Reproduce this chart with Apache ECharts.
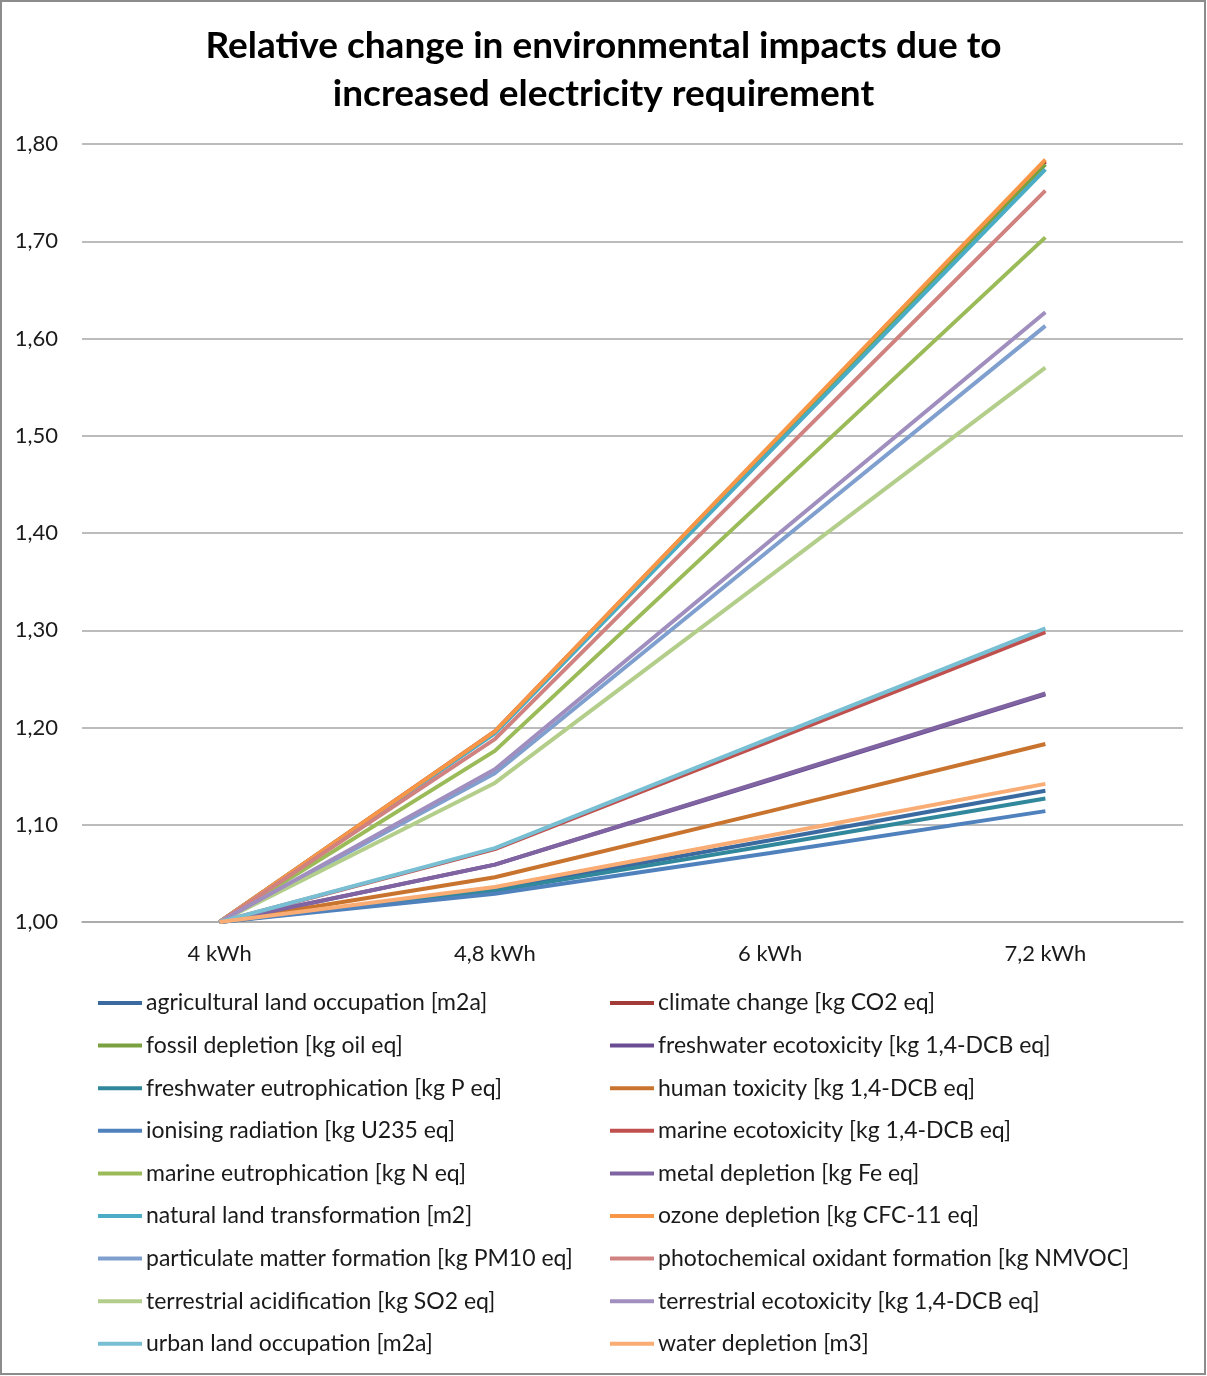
<!DOCTYPE html>
<html>
<head>
<meta charset="utf-8">
<script src="https://cdn.jsdelivr.net/npm/echarts@6/dist/echarts.min.js"></script>
<style>
html,body{margin:0;padding:0;background:#fff;}
#chart{width:1207px;height:1376px;}
</style>
</head>
<body>
<div id="chart"></div>
<script>
var categories = ['4 kWh', '4,8 kWh', '6 kWh', '7,2 kWh'];
var yTicks = [1.0, 1.8, 0.1];

var agricultural = [1.000, 1.034, 1.084, 1.135];
var climateChange = [1.000, 1.196, 1.489, 1.782];
var fossilDepletion = [1.000, 1.195, 1.487, 1.779];
var freshwaterEcotox = [1.000, 1.059, 1.146, 1.234];
var freshwaterEutro = [1.000, 1.032, 1.079, 1.127];
var humanTox = [1.000, 1.046, 1.114, 1.183];
var ionising = [1.000, 1.029, 1.071, 1.114];
var marineEcotox = [1.000, 1.075, 1.186, 1.298];
var marineEutro = [1.000, 1.176, 1.440, 1.704];
var metalDepletion = [1.000, 1.059, 1.147, 1.235];
var naturalLand = [1.000, 1.194, 1.484, 1.774];
var ozoneDepletion = [1.000, 1.196, 1.490, 1.784];
var particulate = [1.000, 1.153, 1.383, 1.613];
var photochemical = [1.000, 1.188, 1.470, 1.752];
var terrAcid = [1.000, 1.143, 1.356, 1.570];
var terrEcotox = [1.000, 1.157, 1.392, 1.627];
var urbanLand = [1.000, 1.076, 1.189, 1.302];
var waterDepletion = [1.000, 1.036, 1.089, 1.142];

var seriesNames = [
  'agricultural land occupation [m2a]',
  'climate change [kg CO2 eq]',
  'fossil depletion [kg oil eq]',
  'freshwater ecotoxicity [kg 1,4-DCB eq]',
  'freshwater eutrophication [kg P eq]',
  'human toxicity [kg 1,4-DCB eq]',
  'ionising radiation [kg U235 eq]',
  'marine ecotoxicity [kg 1,4-DCB eq]',
  'marine eutrophication [kg N eq]',
  'metal depletion [kg Fe eq]',
  'natural land transformation [m2]',
  'ozone depletion [kg CFC-11 eq]',
  'particulate matter formation [kg PM10 eq]',
  'photochemical oxidant formation [kg NMVOC]',
  'terrestrial acidification [kg SO2 eq]',
  'terrestrial ecotoxicity [kg 1,4-DCB eq]',
  'urban land occupation [m2a]',
  'water depletion [m3]'
];
var seriesData = [agricultural, climateChange, fossilDepletion, freshwaterEcotox, freshwaterEutro,
  humanTox, ionising, marineEcotox, marineEutro, metalDepletion, naturalLand, ozoneDepletion,
  particulate, photochemical, terrAcid, terrEcotox, urbanLand, waterDepletion];
var colors = ['#3B6AA0', '#A33B38', '#7AA03F', '#6A4C93', '#31879B', '#C8742F',
  '#4F81BD', '#C0504D', '#9BBB59', '#8064A2', '#4BACC6', '#F79646',
  '#7F9FCF', '#D08280', '#B3CE8A', '#A08EBF', '#78BFD3', '#F9AC73'];

var FONT = 'Lato';
var series = seriesNames.map(function (n, i) {
  return {
    name: n, type: 'line', data: seriesData[i], symbol: 'none', showSymbol: false,
    lineStyle: { width: 4, color: colors[i] }, itemStyle: { color: colors[i] },
    emphasis: { disabled: true }, animation: false
  };
});
var leftNames = seriesNames.filter(function (n, i) { return i % 2 === 0; });
var rightNames = seriesNames.filter(function (n, i) { return i % 2 === 1; });
var legendCommon = {
  orient: 'vertical', top: 986, itemWidth: 44, itemHeight: 4, itemGap: 18.6, icon: 'rect',
  textStyle: { fontFamily: FONT, fontSize: 23, lineHeight: 24, color: '#1a1a1a', padding: [0, 0, 0, -1] },
  selectedMode: false
};

var chart = echarts.init(document.getElementById('chart'), null, { renderer: 'canvas' });
chart.setOption({
  backgroundColor: '#fff',
  animation: false,
  title: {
    text: 'Relative change in environmental impacts due to\nincreased electricity requirement',
    left: 'center', top: 17,
    textStyle: { fontFamily: FONT, fontWeight: 'bold', fontSize: 37, lineHeight: 48, color: '#000' }
  },
  grid: { left: 82, right: 24, top: 144, height: 778 },
  legend: [
    Object.assign({ left: 93, data: leftNames }, legendCommon),
    Object.assign({ left: 605, data: rightNames }, legendCommon)
  ],
  xAxis: {
    type: 'category', data: categories, boundaryGap: true,
    axisLine: { lineStyle: { color: '#A6A6A6', width: 1.5 } },
    axisTick: { show: false },
    axisLabel: { fontFamily: FONT, fontSize: 22, color: '#1a1a1a', margin: 21 }
  },
  yAxis: {
    type: 'value', min: yTicks[0], max: yTicks[1], interval: yTicks[2],
    axisLine: { show: false }, axisTick: { show: false },
    splitLine: { lineStyle: { color: '#A6A6A6', width: 1.5 } },
    axisLabel: {
      fontFamily: FONT, fontSize: 22, color: '#1a1a1a', margin: 24,
      formatter: function (v) { return v.toFixed(2).replace('.', ','); }
    }
  },
  graphic: [{
    type: 'rect', shape: { x: 1, y: 1, width: 1204, height: 1373 },
    style: { fill: 'none', stroke: '#8C8C8C', lineWidth: 2 }, silent: true, z: 100
  }],
  series: series
});
</script>
</body>
</html>
